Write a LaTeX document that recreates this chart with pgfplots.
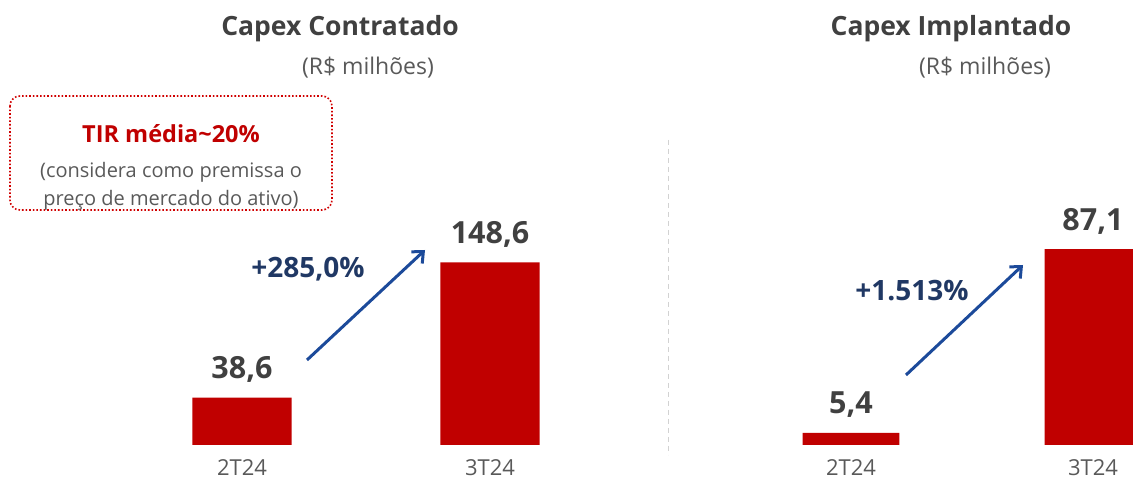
\documentclass[border=0pt]{standalone}
\usepackage{pgfplots}
\pgfplotsset{compat=1.18}
\usepackage{fontspec}
\setmainfont{Open Sans}
\usetikzlibrary{arrows.meta}
\definecolor{barred}{HTML}{C00000}
\definecolor{valgray}{HTML}{404040}
\definecolor{tickgray}{HTML}{595959}
\definecolor{navy}{HTML}{203864}
\definecolor{arrowblue}{HTML}{1C4A9A}
\definecolor{boxred}{HTML}{D00000}
\tikzset{vallabel/.style={font=\fontsize{30.5}{32}\selectfont\bfseries, text=valgray, anchor=base, yshift=19pt, inner sep=0pt}}
\begin{document}
\begin{tikzpicture}[x=1pt,y=1pt]
\useasboundingbox (0,0) rectangle (1133,490);
\pgfplotsset{
  capexbars/.style={
    anchor=south west, scale only axis,
    axis lines=none, xmin=-0.5, xmax=1.5, ymin=0,
    clip=false,
  },
}
% ---- left chart
\begin{axis}[capexbars, at={(118pt,45pt)}, width=496pt, height=209pt, ymax=170]
\addplot[ybar, bar width=0.4, fill=barred, draw=none,
  point meta=explicit symbolic, nodes near coords,
  every node near coord/.style={vallabel}]
  coordinates {(0,38.6) [38,6] (1,148.6) [148,6]};
\node[font=\fontsize{22}{24}\selectfont, text=tickgray] at (axis cs:0,0) [yshift=-23pt] {2T24};
\node[font=\fontsize{22}{24}\selectfont, text=tickgray] at (axis cs:1,0) [yshift=-23pt] {3T24};
\end{axis}
% ---- right chart
\begin{axis}[capexbars, at={(730pt,45pt)}, width=484pt, height=225pt, ymax=100]
\addplot[ybar, bar width=0.4, fill=barred, draw=none,
  point meta=explicit symbolic, nodes near coords,
  every node near coord/.style={vallabel}]
  coordinates {(0,5.4) [5,4] (1,87.1) [87,1]};
\node[font=\fontsize{22}{24}\selectfont, text=tickgray] at (axis cs:0,0) [yshift=-23pt] {2T24};
\node[font=\fontsize{22}{24}\selectfont, text=tickgray] at (axis cs:1,0) [yshift=-23pt] {3T24};
\end{axis}
% ---- titles
\node[font=\fontsize{26.5}{30}\selectfont\bfseries, text=valgray] at (340,461) {Capex Contratado};
\node[font=\fontsize{23}{26}\selectfont, text=tickgray] at (368,422) {(R\$ milhões)};
\node[font=\fontsize{26.5}{30}\selectfont\bfseries, text=valgray] at (951,461) {Capex Implantado};
\node[font=\fontsize{23}{26}\selectfont, text=tickgray] at (985,422) {(R\$ milhões)};
% ---- separator
\draw[gray!35, line width=1pt, dash pattern=on 5pt off 4pt] (668,350) -- (668,35);
% ---- note box
\draw[boxred, line width=1.6pt, dotted, rounded corners=10pt] (10,394) rectangle (332,280);
\node[font=\fontsize{23.5}{26}\selectfont\bfseries, text=barred] at (171,356) {TIR média\textasciitilde 20\%};
\node[font=\fontsize{20}{23}\selectfont, text=tickgray] at (171,318) {(considera como premissa o};
\node[font=\fontsize{20}{23}\selectfont, text=tickgray] at (171,290) {preço de mercado do ativo)};
% ---- arrows and growth labels
\draw[arrowblue, line width=3pt, -{Straight Barb[length=9pt,width=16pt]}] (307,130) -- (425,240);
\draw[arrowblue, line width=3pt, -{Straight Barb[length=9pt,width=16pt]}] (906,115) -- (1023,225);
\node[font=\fontsize{28}{30}\selectfont\bfseries, text=navy] at (308,221) {+285,0\%};
\node[font=\fontsize{28}{30}\selectfont\bfseries, text=navy] at (912,199) {+1.513\%};
\end{tikzpicture}
\end{document}
